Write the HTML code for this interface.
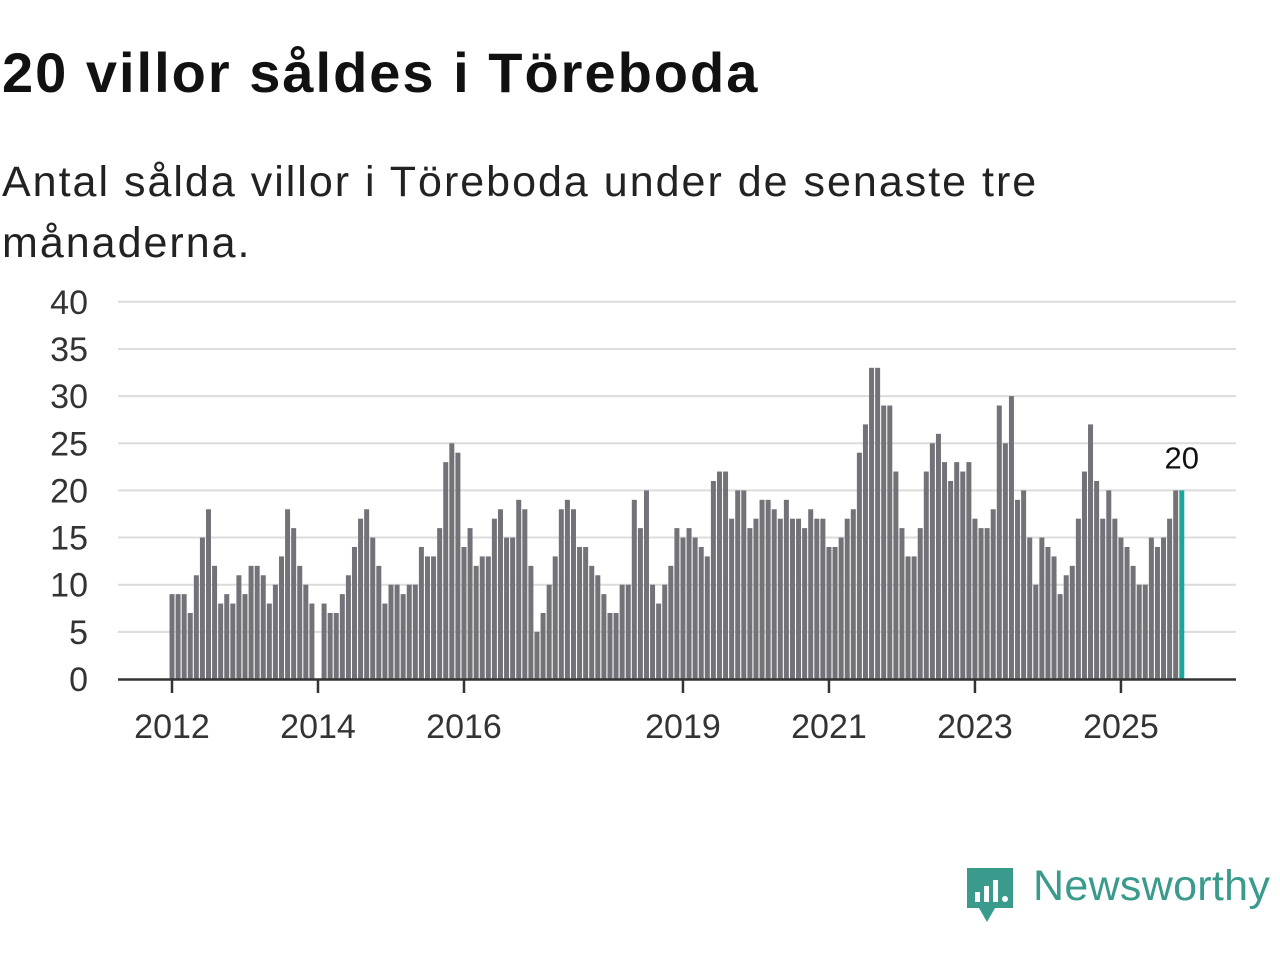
<!DOCTYPE html>
<html><head><meta charset="utf-8"><style>
body{margin:0;width:1280px;height:960px;background:#fff;font-family:"Liberation Sans","DejaVu Sans",sans-serif;overflow:hidden;position:relative}
h1{position:absolute;left:2px;top:40px;margin:0;font-size:56px;letter-spacing:2px;font-weight:bold;color:#111}
.sub{position:absolute;left:2px;top:152px;margin:0;font-size:43px;letter-spacing:2px;line-height:61px;color:#222;width:1100px}
svg{position:absolute;left:0;top:0}
</style></head><body>
<h1>20 villor såldes i Töreboda</h1>
<p class="sub">Antal sålda villor i Töreboda under de senaste tre månaderna.</p>
<svg id="chart" width="1280" height="960"></svg>
<div style="position:absolute;left:965px;top:866px;">
<svg width="52" height="60" style="position:static"><path d="M2 2h46v40H30l-8 14-8-14H2z" fill="#3a9a8c"/><rect x="10" y="26" width="5" height="10" fill="#fff"/><rect x="19" y="20" width="5" height="16" fill="#fff"/><rect x="28" y="14" width="5" height="22" fill="#fff"/><circle cx="40" cy="33" r="3" fill="#fff"/></svg>
<span style="position:absolute;left:68px;top:-4px;font-size:43px;letter-spacing:0.3px;color:#3a9a8c;white-space:nowrap">Newsworthy</span></div>
<script>
const values=[9,9,9,7,11,15,18,12,8,9,8,11,9,12,12,11,8,10,13,18,16,12,10,8,0,8,7,7,9,11,14,17,18,15,12,8,10,10,9,10,10,14,13,13,16,23,25,24,14,16,12,13,13,17,18,15,15,19,18,12,5,7,10,13,18,19,18,14,14,12,11,9,7,7,10,10,19,16,20,10,8,10,12,16,15,16,15,14,13,21,22,22,17,20,20,16,17,19,19,18,17,19,17,17,16,18,17,17,14,14,15,17,18,24,27,33,33,29,29,22,16,13,13,16,22,25,26,23,21,23,22,23,17,16,16,18,29,25,30,19,20,15,10,15,14,13,9,11,12,17,22,27,21,17,20,17,15,14,12,10,10,15,14,15,17,20,20];
const yTicks=[0,5,10,15,20,25,30,35,40];
const xTickYears=[2012,2014,2016,2019,2021,2023,2025];
const startYear=2012;
const svg=document.getElementById('chart');
const NS='http://www.w3.org/2000/svg';
const x=i=>172+i*6.083;
const y=v=>679-v*9.43;
function mk(t,a){const e=document.createElementNS(NS,t);for(const k in a)e.setAttribute(k,a[k]);svg.appendChild(e);return e;}
yTicks.forEach(t=>{
 if(t>0){const g=mk('line',{x1:118,x2:1236,y1:y(t),y2:y(t),stroke:'#dcdcdc','stroke-width':2});
 
 }
 const l=mk('text',{x:88,y:y(t)+12,'text-anchor':'end','font-size':34,fill:'#333','font-family':'Liberation Sans, sans-serif'});
 l.textContent=t;
 
 
});
values.forEach((v,i)=>{
 const r=mk('rect',{x:x(i)-2.5,y:y(v),width:5,height:679-y(v),fill:i===values.length-1?'#1aa69a':'#737278'});
 
 
});
const ax=mk('line',{x1:118,x2:1236,y1:679.5,y2:679.5,stroke:'#333','stroke-width':2.5});


xTickYears.forEach(yr=>{
 const xi=x((yr-startYear)*12);
 const t=mk('line',{x1:xi,x2:xi,y1:679,y2:693,stroke:'#333','stroke-width':2.5});
 
 
 const l=mk('text',{x:xi,y:738,'text-anchor':'middle','font-size':34,fill:'#333','font-family':'Liberation Sans, sans-serif'});
 l.textContent=yr;
 
 
});
const last=values.length-1;
const lab=mk('text',{x:x(last),y:y(values[last])-22,'text-anchor':'middle','font-size':31,fill:'#111','font-family':'Liberation Sans, sans-serif'});
lab.textContent=values[last];


</script>
</body></html>
